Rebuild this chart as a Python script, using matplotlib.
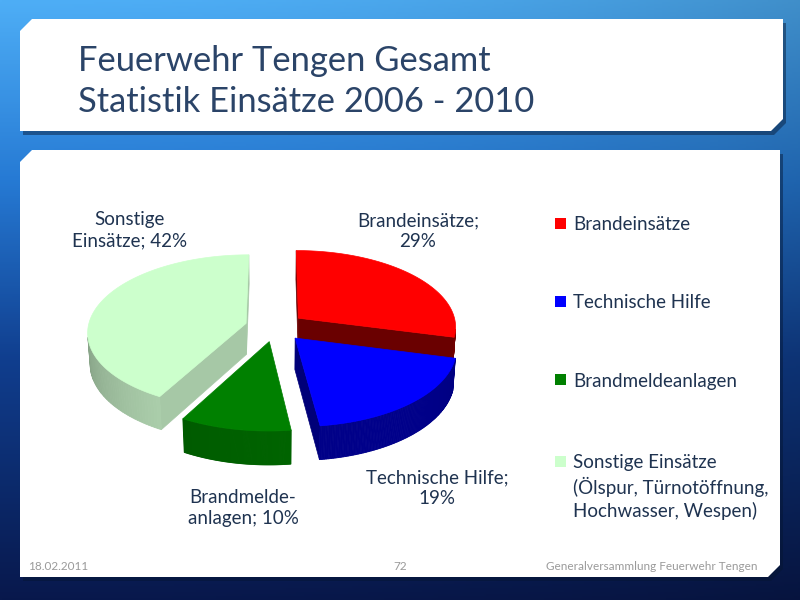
import numpy as np
import matplotlib
matplotlib.use("Agg")
import matplotlib.pyplot as plt
from matplotlib.patches import Polygon
from matplotlib.colors import to_rgb

# Daten
kategorien = ["Brandeinsätze", "Technische Hilfe", "Brandmeldeanlagen", "Sonstige Einsätze"]
anteile = [29, 19, 10, 42]
etiketten = ["Brandeinsätze;\n29%", "Technische Hilfe;\n19%",
             "Brandmelde-\nanlagen; 10%", "Sonstige\nEinsätze; 42%"]
legende = ["Brandeinsätze", "Technische Hilfe", "Brandmeldeanlagen",
           "Sonstige Einsätze\n(Ölspur, Türnotöffnung,\nHochwasser, Wespen)"]

farben = ["#FF0000", "#0000FF", "#008000", "#CCFFCC"]
seiten = ["#6A0000", "#000078", "#005800", "#A6C8A6"]

titel1 = "Feuerwehr Tengen Gesamt"
titel2 = "Statistik Einsätze 2006 - 2010"
datum = "18.02.2011"
seite = "72"
fusszeile = "Generalversammlung Feuerwehr Tengen"

plt.rcParams['font.family'] = ['Lato', 'DejaVu Sans']
textfarbe = "#1F3350"

fig = plt.figure(figsize=(8, 6), dpi=100)
ax = fig.add_axes([0, 0, 1, 1])
ax.set_xlim(0, 800)
ax.set_ylim(600, 0)
ax.axis("off")

# hintergrund verlauf
stops = np.array([0.0, 0.3, 0.6, 1.0])
cols = np.array([[78, 174, 246], [38, 122, 212], [16, 62, 142], [8, 24, 76]]) / 255
yy = np.linspace(0, 1, 300)
grad = np.stack([np.interp(yy, stops, cols[:, k]) for k in range(3)], -1)
xx = np.linspace(0, 1, 400)
dunkel = 1 - 0.18 * xx ** 2
bild = grad[:, None, :] * dunkel[None, :, None]
ax.imshow(bild, extent=(0, 800, 600, 0), aspect="auto", zorder=0)


def panel(x0, y0, x1, y1, c=12):
    pts = [(x0, y0 + c), (x0 + c, y0), (x1, y0), (x1, y1 - c), (x1 - c, y1), (x0, y1)]
    schatten = [(px + 3, py + 4) for px, py in pts]
    ax.add_patch(Polygon(schatten, closed=True, fc="#051530", ec="none", alpha=0.45, zorder=1))
    ax.add_patch(Polygon(pts, closed=True, fc="white", ec="none", zorder=2))


panel(20, 19, 783, 131)
panel(20, 150, 780, 577)

ax.text(78, 71, titel1, fontsize=24.8, color="#2B4468", va="baseline", zorder=5)
ax.text(78, 112, titel2, fontsize=24.8, color="#2B4468", va="baseline", zorder=5)

ax.text(28, 566, datum, fontsize=8.5, color="#9A9A9A", va="center", zorder=5)
ax.text(400, 566, seite, fontsize=8.5, color="#9A9A9A", va="center", ha="center", zorder=5)
ax.text(757, 566, fusszeile, fontsize=8.5, color="#9A9A9A", va="center", ha="right", zorder=5)

# 3D torte
CX, CY = 275, 327
R = 158
EXPL = 30
H = 36
EL = np.radians(29)
DIST = 1300
cam = np.array([0, -DIST * np.cos(EL), DIST * np.sin(EL)])
w = np.array([0, np.cos(EL), -np.sin(EL)])
up = np.array([0, np.sin(EL), np.cos(EL)])


def proj(P):
    v = np.atleast_2d(P) - cam
    d = v @ w
    return np.column_stack([CX + DIST * v[:, 0] / d, CY - DIST * (v @ up) / d])


def sichtbar(n, P):
    return np.dot(n, cam - P) > 0


def schatt(farbe, f):
    return tuple(np.clip(np.array(to_rgb(farbe)) * f, 0, 1))


grenzen = 90 - np.concatenate([[0], np.cumsum(anteile)]) * 3.6
stuecke = []
for i in range(len(anteile)):
    a1, a0 = np.radians(grenzen[i]), np.radians(grenzen[i + 1])
    mid = (a0 + a1) / 2
    ox, oy = EXPL * np.cos(mid), EXPL * np.sin(mid)
    stuecke.append((oy, i, a0, a1, ox))

for oy, i, a0, a1, ox in sorted(stuecke, reverse=True):
    z = 10 + (3 - oy / 20)
    apex_o = np.array([ox, oy, 0.0])
    apex_u = np.array([ox, oy, -H])
    t = np.linspace(a0, a1, 120)
    rim_o = np.column_stack([ox + R * np.cos(t), oy + R * np.sin(t), np.zeros_like(t)])
    rim_u = rim_o - np.array([0, 0, H])
    # schnittflaechen
    for a, n in [(a1, np.array([-np.sin(a1), np.cos(a1), 0])),
                 (a0, np.array([np.sin(a0), -np.cos(a0), 0]))]:
        if sichtbar(n, apex_o):
            ro = np.array([ox + R * np.cos(a), oy + R * np.sin(a), 0])
            quad = proj(np.array([apex_o, ro, ro - [0, 0, H], apex_u]))
            ax.add_patch(Polygon(quad, closed=True, fc=seiten[i], ec=seiten[i], lw=0.5, zorder=z))
    # aussenwand
    for k in range(len(t) - 1):
        n = np.array([np.cos(t[k]), np.sin(t[k]), 0])
        if sichtbar(n, rim_o[k]):
            licht = 0.9 + 0.25 * np.cos(t[k] + np.radians(60))
            c = schatt(seiten[i], licht)
            quad = proj(np.array([rim_o[k], rim_o[k + 1], rim_u[k + 1], rim_u[k]]))
            ax.add_patch(Polygon(quad, closed=True, fc=c, ec=c, lw=0.6, zorder=z))
    # deckel
    deckel = proj(np.vstack([apex_o, rim_o]))
    ax.add_patch(Polygon(deckel, closed=True, fc=farben[i], ec=farben[i], lw=0.5, zorder=z + 0.5))

# beschriftungen
lpos = [(418, 231), (437, 488), (243, 508), (130, 230)]
for (x, y), txt in zip(lpos, etiketten):
    ax.text(x, y, txt, fontsize=13.5, color=textfarbe, ha="center", va="center",
            linespacing=1.3, zorder=20)

# legende
ly = [226, 304, 382, 464]
for y, txt, f in zip(ly, legende, farben):
    ax.add_patch(plt.Rectangle((555, y - 8), 11, 11, fc=f, ec="none", zorder=20))
    ax.text(573, y - 10 if "\n" in txt else y - 1, txt, fontsize=13.5, color=textfarbe, ha="left",
            va="top" if "\n" in txt else "center", linespacing=1.32, zorder=20)

fig.savefig("out.png", dpi=100)
